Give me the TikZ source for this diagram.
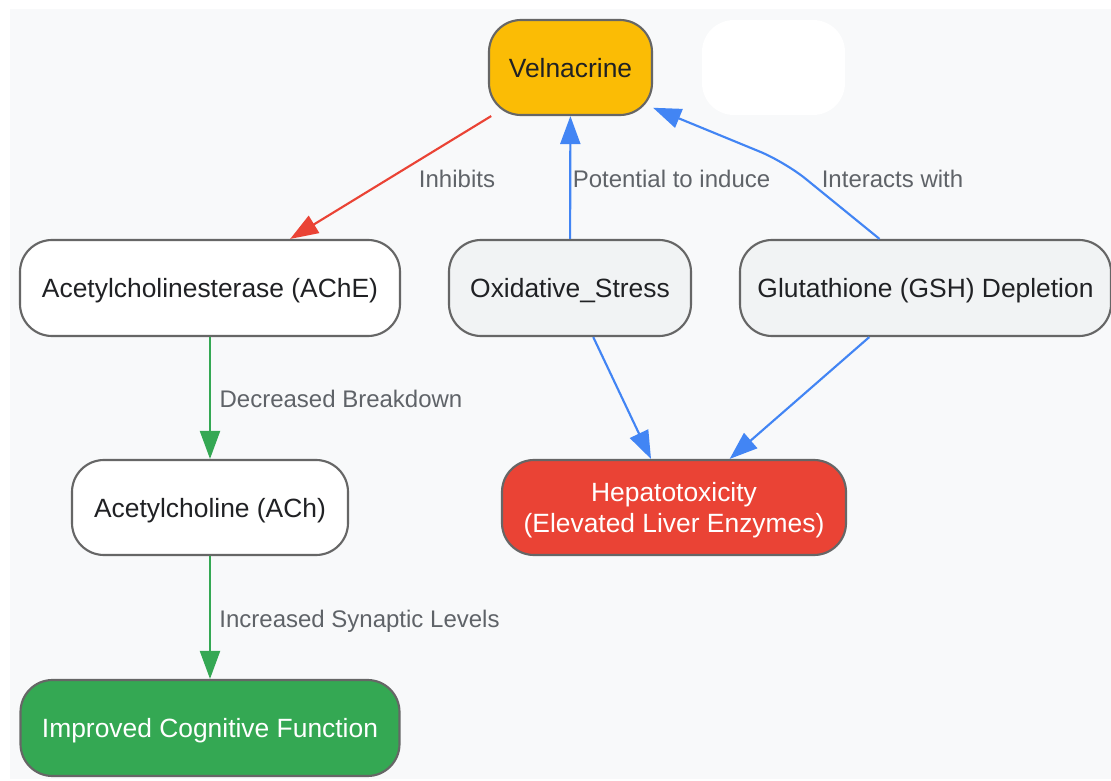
\documentclass[tikz,border=0pt]{standalone}
\usepackage{fontspec}
\setmainfont{Liberation Sans}
\usetikzlibrary{arrows.meta,calc}
\definecolor{bg}{HTML}{F8F9FA}
\definecolor{bordergray}{HTML}{666666}
\definecolor{lightfill}{HTML}{F1F3F4}
\definecolor{gyellow}{HTML}{FBBC05}
\definecolor{gred}{HTML}{EA4335}
\definecolor{ggreen}{HTML}{34A853}
\definecolor{gblue}{HTML}{4285F4}
\definecolor{textdark}{HTML}{202124}
\definecolor{labelgray}{HTML}{5F6368}
\tikzset{
  box/.style={draw=bordergray, line width=1.6pt, rounded corners=24pt,
    minimum height=71.25pt, inner sep=0pt, text=textdark, align=center,
    text depth=0pt, font=\fontsize{19.8}{23.5}\selectfont},
  blankbox/.style={fill=white, rounded corners=24pt, minimum height=71.25pt, inner sep=0pt},
  arr/.style={line width=1.6pt, -{Triangle[length=21pt,width=15pt]}},
  elabel/.style={text=labelgray, inner sep=0pt, text depth=0pt, font=\fontsize{18}{21}\selectfont}
}
\begin{document}
\begin{tikzpicture}[x=0.75pt,y=-0.75pt]
\useasboundingbox (0,0) rectangle (1111,781);
\fill[bg] (10,9) rectangle (1111,779);

\node[box, fill=gyellow, minimum width=122.25pt] (vel) at (570.5,67.5) {Velnacrine};
\node[blankbox, minimum width=107.25pt] (blank) at (773.5,67.5) {};
\node[box, fill=white, minimum width=285pt, minimum height=72pt] (ache) at (210,288) {Acetylcholinesterase (AChE)};
\node[box, fill=lightfill, minimum width=181.5pt, minimum height=72pt] (ox) at (570,288) {Oxidative\_Stress};
\node[box, fill=lightfill, minimum width=278.25pt, minimum height=72pt] (gsh) at (925.5,288) {Glutathione (GSH) Depletion};
\node[box, fill=white, minimum width=207pt] (ach) at (210,507.5) {Acetylcholine (ACh)};
\node[box, fill=gred, text=white, minimum width=258pt] (hep) at (674,507.5) {Hepatotoxicity\\(Elevated Liver Enzymes)};
\node[box, fill=ggreen, text=white, minimum width=284.25pt, minimum height=72pt] (icf) at (210,728) {Improved Cognitive Function};

\draw[arr, gred] (vel) -- (ache);
\draw[arr, gblue] (ox) -- (vel);
\coordinate (bend) at (785,162);
\draw[arr, gblue, rounded corners=20pt] ($(gsh.north)+(-46,0)$) -- (bend) -- (vel.-26);
\draw[arr, ggreen] (ache) -- (ach);
\draw[arr, ggreen] (ach) -- (icf);
\draw[arr, gblue] (ox) -- (hep);
\draw[arr, gblue] (gsh) -- (hep);

\node[elabel] (l1) at (457,179) {Inhibits};
\node[elabel] (l2) at (671.5,179) {Potential to induce};
\node[elabel] (l3) at (892.5,179) {Interacts with};
\node[elabel] (l4) at (341,399) {Decreased Breakdown};
\node[elabel] (l5) at (359.5,619) {Increased Synaptic Levels};
\end{tikzpicture}
\end{document}
